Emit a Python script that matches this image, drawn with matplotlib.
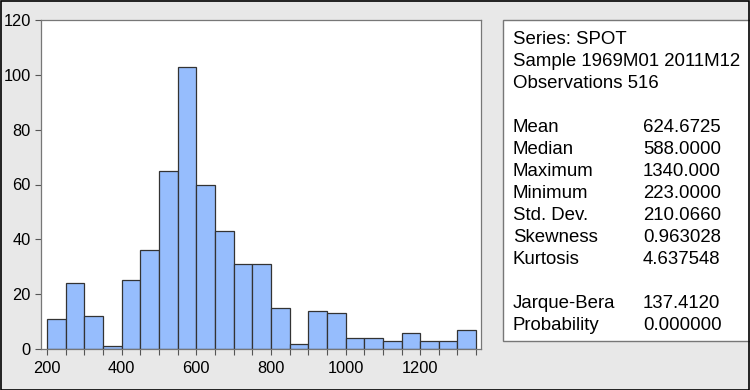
import numpy as np
import matplotlib.pyplot as plt
from matplotlib.patches import Rectangle

plt.rcParams['font.family'] = ['Liberation Sans', 'DejaVu Sans']

# Histogram data (bin width 50, starting at 200)
bin_edges = np.arange(200, 1351, 50)
counts = [11, 24, 12, 1, 25, 36, 65, 103, 60, 43, 31, 31,
          15, 2, 14, 13, 4, 4, 3, 6, 3, 3, 7]

# Summary statistics
header_lines = ["Series: SPOT", "Sample 1969M01 2011M12", "Observations 516"]
stat_names = ["Mean", "Median", "Maximum", "Minimum", "Std. Dev.",
              "Skewness", "Kurtosis", "", "Jarque-Bera", "Probability"]
stat_values = ["624.6725", "588.0000", "1340.000", "223.0000", "210.0660",
               "0.963028", "4.637548", "", "137.4120", "0.000000"]

bg = '#e8e8e8'
fig = plt.figure(figsize=(7.5, 3.9), dpi=100, facecolor=bg)
W, H = 750, 390

# Histogram axes
ax = fig.add_axes([41 / W, 1 - 349 / H, 440 / W, 329 / H])
ax.set_facecolor('white')
ax.bar(bin_edges[:-1], counts, width=50, align='edge',
       color='#96bdfd', edgecolor='#333333', linewidth=0.9)
ax.set_xlim(184, 1363)
ax.set_ylim(0, 120)
ax.set_yticks(np.arange(0, 121, 20))
ax.set_xticks(np.arange(200, 1201, 200))
ax.set_xticks(bin_edges, minor=True)
ax.tick_params(axis='both', which='both', direction='out', length=4.3,
               width=0.8, color='#555555', labelsize=11.8, pad=4.5)
ax.tick_params(axis='y', pad=3)
for s in ax.spines.values():
    s.set_color('#777777')
    s.set_linewidth(0.9)

# Statistics box
box = fig.add_axes([503 / W, 1 - 341 / H, 250 / W, 321 / H])
box.set_xlim(0, 250)
box.set_ylim(321, 0)
box.axis('off')
box.add_patch(Rectangle((0, 0), 260, 321, facecolor='white',
                        edgecolor='#777777', linewidth=1, clip_on=False))

fs = 13.4
y = 20
for line in header_lines:
    box.text(10, y, line, fontsize=fs, va='center', ha='left')
    y += 22
y += 22
for name, val in zip(stat_names, stat_values):
    box.text(10, y, name, fontsize=fs, va='center', ha='left')
    box.text(140, y, val, fontsize=fs, va='center', ha='left')
    y += 22

# outer border
fig.add_artist(Rectangle((0.5 / W, 0.5 / H), 1 - 1.5 / W, 1 - 1.5 / H,
                         transform=fig.transFigure, fill=False,
                         edgecolor='black', linewidth=1.2))

fig.savefig('out.png', dpi=100, facecolor=bg)
